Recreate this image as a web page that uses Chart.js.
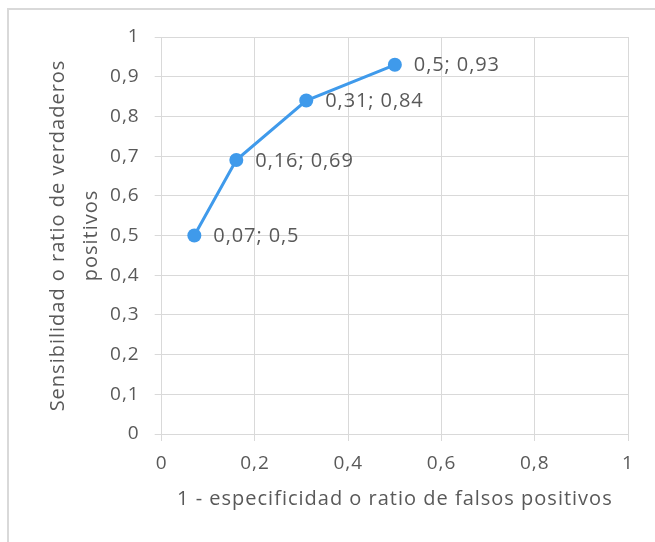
<!DOCTYPE html>
<html>
<head>
<meta charset="utf-8">
<script src="https://cdn.jsdelivr.net/npm/chart.js@4"></script>
<style>
  body { margin: 0; background: #fff; }
  #marco {
    position: absolute; left: 7px; top: 8px;
    width: 646px; height: 532px;
    border-top: 2px solid #d9d9d9; border-left: 2px solid #d9d9d9;
  }
</style>
</head>
<body>
<div id="marco"><canvas id="rocChart"></canvas></div>
<script>
// datos de la curva ROC
const falsosPositivos = [0.07, 0.16, 0.31, 0.5];
const verdaderosPositivos = [0.5, 0.69, 0.84, 0.93];
const tituloX = "1 - especificidad o ratio de falsos positivos";
const tituloY = ["Sensibilidad o ratio de verdaderos", "positivos"];

const fuente = "'Open Sans', sans-serif";
const gris = "#595959";
const azul = "#3f9aeb";
const espaciado = "1px"; // el texto original va algo espaciado

// número con coma decimal
function coma(v) {
  return String(Math.round(v * 100) / 100).replace(".", ",");
}

// espaciado de letras para todo el texto del gráfico
const espaciadoTexto = {
  id: "espaciadoTexto",
  beforeUpdate(chart) { chart.ctx.letterSpacing = espaciado; },
  beforeDraw(chart) { chart.ctx.letterSpacing = espaciado; },
};

// etiquetas "x; y" a la derecha de cada punto
const etiquetasPuntos = {
  id: "etiquetasPuntos",
  afterDatasetsDraw(chart) {
    const ctx = chart.ctx;
    const meta = chart.getDatasetMeta(0);
    ctx.save();
    ctx.letterSpacing = "0.9px";
    ctx.font = "20px " + fuente;
    ctx.fillStyle = gris;
    ctx.textAlign = "left";
    ctx.textBaseline = "middle";
    meta.data.forEach((p, i) => {
      ctx.fillText(coma(falsosPositivos[i]) + "; " + coma(verdaderosPositivos[i]), p.x + 19, p.y + 1);
    });
    ctx.restore();
  },
};

document.addEventListener("DOMContentLoaded", function () {
  const ctx = document.getElementById("rocChart").getContext("2d");
  new Chart(ctx, {
    type: "scatter",
    data: {
      datasets: [
        {
          data: falsosPositivos.map((x, i) => ({ x: x, y: verdaderosPositivos[i] })),
          showLine: true,
          borderColor: azul,
          backgroundColor: azul,
          borderWidth: 3,
          pointRadius: 7,
          pointBorderWidth: 0,
          pointHoverRadius: 7,
        },
      ],
    },
    options: {
      responsive: true,
      maintainAspectRatio: false,
      animation: false,
      layout: { padding: { top: 27, right: 27, left: 0, bottom: 0 } },
      plugins: { legend: { display: false }, tooltip: { enabled: false } },
      scales: {
        x: {
          type: "linear",
          min: 0,
          max: 1,
          afterFit: (s) => { s.height = 108; },
          ticks: {
            stepSize: 0.2,
            padding: 11,
            color: gris,
            font: { family: fuente, size: 19 },
            callback: (v) => coma(v),
          },
          grid: { color: "#d9d9d9", tickLength: 7, tickColor: "#d9d9d9" },
          border: { color: "#d9d9d9" },
          title: {
            display: true,
            text: tituloX,
            color: gris,
            font: { family: fuente, size: 20 },
            padding: { bottom: 31 },
          },
        },
        y: {
          min: 0,
          max: 1,
          afterFit: (s) => { s.width = 152.7; },
          ticks: {
            stepSize: 0.1,
            padding: 15,
            color: gris,
            font: { family: fuente, size: 19 },
            callback: (v) => coma(v),
          },
          grid: { color: "#d9d9d9", tickLength: 7, tickColor: "#d9d9d9" },
          border: { color: "#d9d9d9" },
          title: {
            display: true,
            text: tituloY,
            color: gris,
            font: { family: fuente, size: 20, lineHeight: 1.65 },
            padding: { top: 33 },
          },
        },
      },
    },
    plugins: [espaciadoTexto, etiquetasPuntos],
  });
});
</script>
</body>
</html>
